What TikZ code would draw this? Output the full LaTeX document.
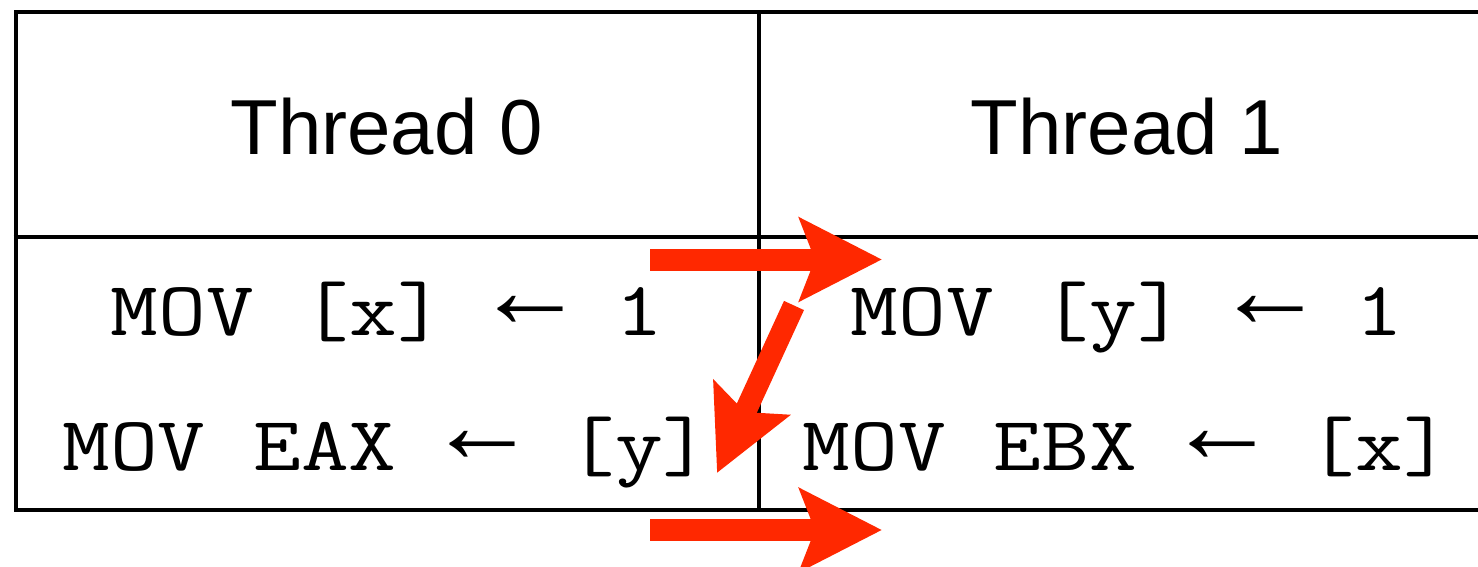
\documentclass[tikz,border=0pt]{standalone}
\usepackage{fontspec}
\usepackage{graphicx}
\setmainfont{Liberation Sans}
\setmonofont{Latin Modern Mono}
\newfontfamily\arrowfnt{Liberation Mono}
\usetikzlibrary{arrows.meta}
\definecolor{arrowred}{RGB}{255,40,0}
\newcommand{\codearrow}{\makebox[75pt]{\raisebox{7.5pt}{\arrowfnt\fontsize{110}{110}\selectfont ←}}}
\newcommand{\codeline}[1]{\scalebox{1.205}[1]{\ttfamily\fontsize{77}{90}\selectfont #1}}
\tikzset{
  grid/.style={line width=4pt, black},
  headtext/.style={font=\fontsize{78}{90}\selectfont, anchor=base, inner sep=0pt},
  codetext/.style={anchor=base, inner sep=0pt},
  bigarrow/.style={arrowred, line width=22pt,
    -{Stealth[length=82pt, width=82pt, inset=15pt]}}
}
\begin{document}
\begin{tikzpicture}[x=1pt, y=-1pt]
\useasboundingbox (0,0) rectangle (1478,567);
\clip (0,0) rectangle (1478,567);
\fill[white] (0,0) rectangle (1478,567);
% table
\coordinate (tl) at (15.5,12);
\coordinate (br) at (1500,510);
\draw[grid] (tl) rectangle (br);
\draw[grid] (13.5,237) coordinate (ml) -- (1500,237) coordinate (mr);
\draw[grid] (758.5,12) coordinate (vt) -- (758.5,510) coordinate (vb);
% headers
\node[headtext] (h0) at (386.5,154) {Thread 0};
\node[headtext] (h1) at (1127,154) {Thread 1};
% code
\node[codetext] (a1) at (387,335) {\codeline{MOV\ [x]\ }\codearrow\codeline{\ 1}};
\node[codetext] (a2) at (386.5,470) {\codeline{MOV\ EAX\ }\codearrow\codeline{\ [y]}};
\node[codetext] (b1) at (1127,335) {\codeline{MOV\ [y]\ }\codearrow\codeline{\ 1}};
\node[codetext] (b2) at (1127,470) {\codeline{MOV\ EBX\ }\codearrow\codeline{\ [x]}};
% arrows
\coordinate (r1s) at (650,259.5);
\coordinate (r1e) at (882,259.5);
\coordinate (r2s) at (794,305.5);
\coordinate (r2e) at (717,473);
\coordinate (r3s) at (650,530);
\coordinate (r3e) at (882,530);
\draw[bigarrow] (r1s) -- (r1e);
\draw[bigarrow] (r2s) -- (r2e);
\draw[bigarrow] (r3s) -- (r3e);
\end{tikzpicture}
\end{document}
